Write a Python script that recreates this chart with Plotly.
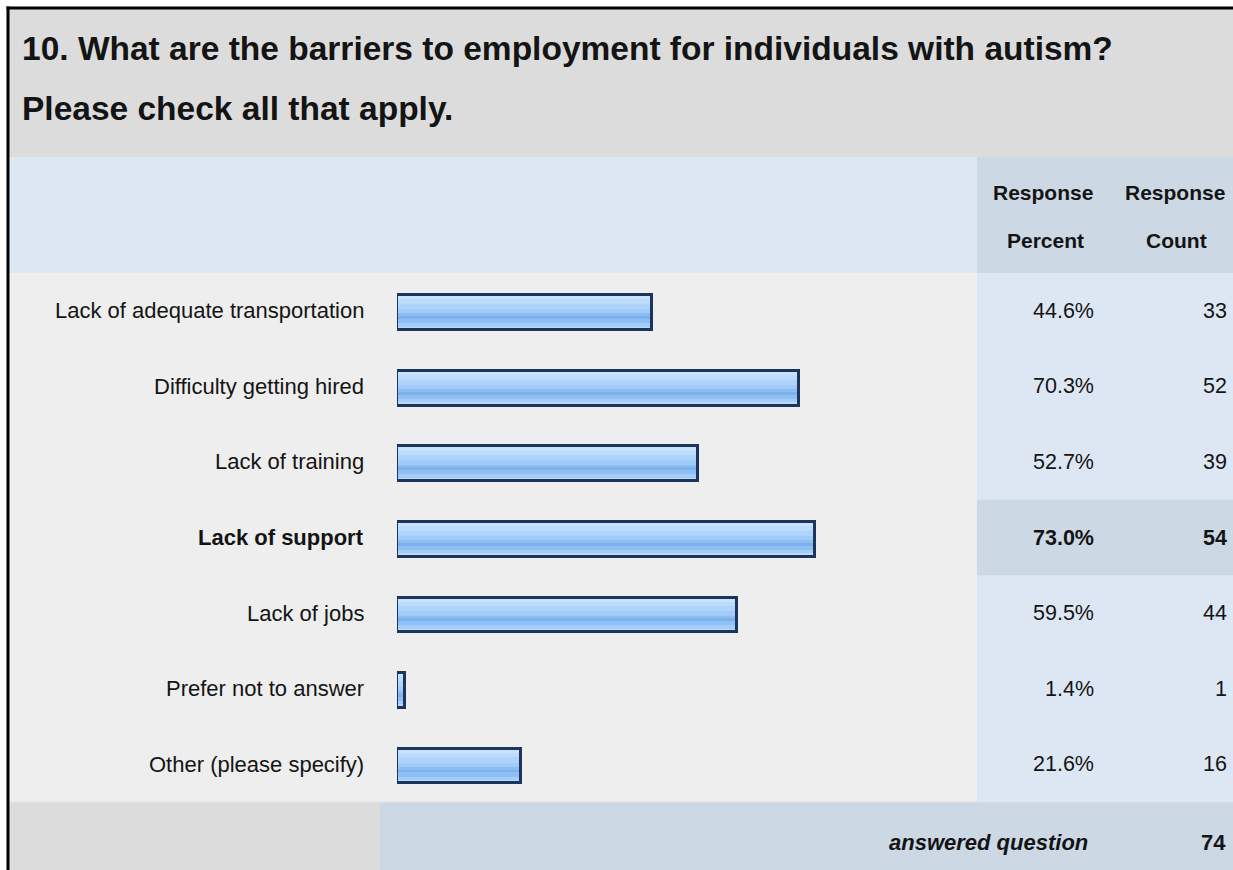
import plotly.graph_objects as go

# ---------------- data ----------------
title_lines = ["10. What are the barriers to employment for individuals with autism?",
               "Please check all that apply."]
categories = ["Lack of adequate transportation", "Difficulty getting hired", "Lack of training",
              "Lack of support", "Lack of jobs", "Prefer not to answer", "Other (please specify)"]
percents = [44.6, 70.3, 52.7, 73.0, 59.5, 1.4, 21.6]
counts = [33, 52, 39, 54, 44, 1, 16]
header_percent = ["Response", "Percent"]
header_count = ["Response", "Count"]
answered_label = "answered question"
answered_count = 74

# ---------------- geometry (pixels) ----------------
W, H = 1233, 870
FONT = "Liberation Sans, Arial, sans-serif"

def px(x):
    return x / W

def py(y):
    return 1 - y / H

TOP_BORDER = 8
HEADER_TOP = 157
DATA_TOP = 273
DATA_BOTTOM = 802
RIGHT_COL = 977
FOOT_SPLIT = 380
n = len(categories)
row_h = (DATA_BOTTOM - DATA_TOP) / n
hi_idx = percents.index(max(percents))

shapes = []
def rect(x0, y0, x1, y1, color):
    shapes.append(dict(type="rect", xref="paper", yref="paper", x0=px(x0), x1=px(x1),
                       y0=py(y1), y1=py(y0), fillcolor=color, line=dict(width=0), layer="below"))

# title band
rect(TOP_BORDER, TOP_BORDER, W + 5, HEADER_TOP, "#dcdcdc")
# header
rect(TOP_BORDER, HEADER_TOP, RIGHT_COL, DATA_TOP, "#dde7f3")
rect(RIGHT_COL, HEADER_TOP, W + 5, DATA_TOP, "#cdd8e5")
# data area
rect(TOP_BORDER, DATA_TOP, RIGHT_COL, DATA_BOTTOM, "#eeeeee")
rect(RIGHT_COL, DATA_TOP, W + 5, DATA_BOTTOM, "#dde7f3")
hy0 = DATA_TOP + hi_idx * row_h
rect(RIGHT_COL, hy0, W + 5, hy0 + row_h, "#cdd8e5")
# footer
rect(TOP_BORDER, DATA_BOTTOM, FOOT_SPLIT, H + 5, "#dcdcdc")
rect(FOOT_SPLIT, DATA_BOTTOM, W + 5, H + 5, "#cdd8e5")
shapes.append(dict(type="line", xref="paper", yref="paper", x0=px(TOP_BORDER), x1=px(W + 5),
                   y0=py(DATA_BOTTOM), y1=py(DATA_BOTTOM), line=dict(color="#e2e2e2", width=1), layer="below"))
# outer black frame (left + top)
shapes.append(dict(type="line", xref="paper", yref="paper", x0=px(TOP_BORDER), x1=px(TOP_BORDER),
                   y0=py(H + 5), y1=py(TOP_BORDER - 1.5), line=dict(color="#000000", width=3)))
shapes.append(dict(type="line", xref="paper", yref="paper", x0=px(TOP_BORDER - 1.5), x1=px(W + 5),
                   y0=py(TOP_BORDER), y1=py(TOP_BORDER), line=dict(color="#000000", width=3)))

# ---------------- bars (gradient via stacked stripes) ----------------
BW = 0.46
SHIFT = 0.025
stripes = [  # (from, to) fraction of bar height from top, color
    (0.00, 1.00, "#a2ccf9"),
    (0.00, 0.12, "#c9e3fd"),
    (0.12, 0.25, "#bcdcfc"),
    (0.25, 0.40, "#aed4fb"),
    (0.40, 0.52, "#a2cbf8"),
    (0.52, 0.60, "#8cbdf3"),
    (0.60, 0.68, "#7cb1ee"),
    (0.68, 0.80, "#8fc0f5"),
    (0.80, 0.90, "#a3ccf8"),
    (0.90, 1.00, "#bcd9f7"),
]
fig = go.Figure()
for f0, f1, col in stripes:
    fig.add_trace(go.Bar(x=percents, y=categories, orientation="h",
                         width=(f1 - f0) * BW, offset=-BW / 2 + f0 * BW + SHIFT,
                         marker=dict(color=col, line=dict(width=0)),
                         hoverinfo="skip", showlegend=False))
fig.add_trace(go.Bar(x=percents, y=categories, orientation="h", width=BW, offset=-BW / 2 + SHIFT,
                     marker=dict(color="rgba(0,0,0,0)", line=dict(color="#1c355c", width=3)),
                     hoverinfo="skip", showlegend=False))

# ---------------- text ----------------
ann = []
TXT = "#141414"
def text(x, y, s, anchor="left", size=22, bold=False, italic=False):
    if bold:
        s = f"<b>{s}</b>"
    if italic:
        s = f"<i>{s}</i>"
    ann.append(dict(x=px(x), y=py(y), xref="paper", yref="paper", text=s, showarrow=False,
                    xanchor=anchor, yanchor="middle", font=dict(family=FONT, size=size, color=TXT)))

text(20, 49, title_lines[0], size=33.5, bold=True)
text(20, 109, title_lines[1], size=33.5, bold=True)
text(1043, 192, header_percent[0], anchor="center", size=21, bold=True)
text(1045, 240, header_percent[1], anchor="center", size=21, bold=True)
text(1175, 192, header_count[0], anchor="center", size=21, bold=True)
text(1176, 240, header_count[1], anchor="center", size=21, bold=True)

for i, (c, p, k) in enumerate(zip(categories, percents, counts)):
    b = (i == hi_idx)
    ann.append(dict(x=px(366), y=c, xref="paper", yref="y", text=f"<b>{c}</b>" if b else c,
                    showarrow=False, xanchor="right", yanchor="middle",
                    font=dict(family=FONT, size=22, color=TXT)))
    ann.append(dict(x=px(1096), y=c, xref="paper", yref="y",
                    text=f"<b>{p:.1f}%</b>" if b else f"{p:.1f}%",
                    showarrow=False, xanchor="right", yanchor="middle",
                    font=dict(family=FONT, size=21.5, color=TXT)))
    ann.append(dict(x=px(1229), y=c, xref="paper", yref="y",
                    text=f"<b>{k}</b>" if b else f"{k}",
                    showarrow=False, xanchor="right", yanchor="middle",
                    font=dict(family=FONT, size=21.5, color=TXT)))

text(1090, 842, answered_label, anchor="right", size=22, bold=True, italic=True)
text(1228, 842, str(answered_count), anchor="right", size=22, bold=True)

fig.update_layout(
    width=W, height=H, autosize=False,
    margin=dict(l=0, r=0, t=0, b=0),
    paper_bgcolor="#ffffff", plot_bgcolor="rgba(0,0,0,0)",
    barmode="overlay", bargap=0,
    shapes=shapes, annotations=ann,
    xaxis=dict(domain=[px(397), px(969)], range=[0, 100], visible=False, fixedrange=True),
    yaxis=dict(domain=[py(DATA_BOTTOM), py(DATA_TOP)], range=[n - 0.5, -0.5],
               categoryorder="array", categoryarray=categories, visible=False, fixedrange=True),
    showlegend=False,
)

fig.write_html("out.html", config={"displayModeBar": False})
